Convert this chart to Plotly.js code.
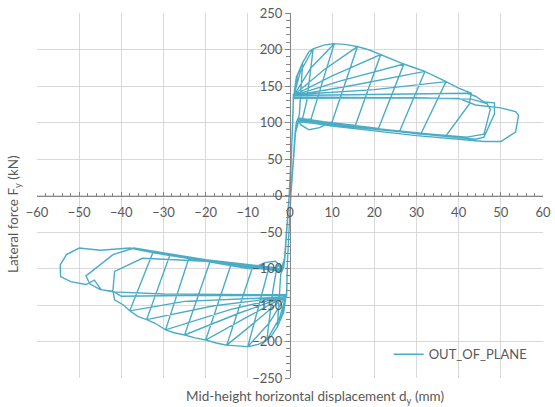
<!DOCTYPE html>
<html>
<head>
<meta charset="utf-8">
<script src="https://cdn.plot.ly/plotly-3.0.1.min.js"></script>
<style>html,body{margin:0;padding:0;background:#fff;}#chart{width:555px;height:407px;}</style>
</head>
<body>
<div id="chart"></div>
<script>
// Hysteresis path, one loop (positive then negative half-cycle) per pair of arrays
const loop1X = [0, 0.3, 0.8, 1.5, 3, 2.2, 1.5, 1.2, 0.2, -0.6, -0.8, -1.5, -3, -2.2, -1.5, -1.2, -0.2, 0.6];
const loop1Y = [0, 60, 132, 162, 182, 110, 100, 85, 0, -90, -132, -160, -180, -108, -98, -85, 0, 90];
const loop2X = [0.8, 1.8, 3, 4.5, 5.5, 4, 3, 2, 1.3, 0.2, -0.6, -0.8, -1.8, -3, -4.5, -5.5, -4, -3, -2, -1.3, -0.2, 0.6];
const loop2Y = [134, 165, 182, 197, 201, 130, 106, 104, 86, 0, -90, -134, -162, -180, -193, -198, -128, -95, -100, -86, 0, 90];
const loop3X = [0.8, 2.5, 5.5, 8, 10.5, 5, 3, 2, 1.3, 0.2, -0.6, -0.8, -2.5, -5.5, -7.5, -10, -5, -3, -2, -1.3, -0.2, 0.6];
const loop3Y = [135, 170, 201, 206, 208, 105, 103, 106, 86, 0, -90, -135, -168, -198, -204, -207, -99, -103, -102, -86, 0, 90];
const loop4X = [0.8, 5, 10.5, 13, 16, 10, 7, 4.5, 2.5, 2, 1.3, 0.2, -0.6, -0.8, -5, -10, -12.5, -15, -9, -6, -3.5, -2.2, -2, -1.3, -0.2, 0.6];
const loop4Y = [136, 175, 208, 207, 204, 101, 93, 90, 97, 105, 86, 0, -90, -136, -175, -207, -206, -205, -100, -92, -90, -96, -104, -86, 0, 90];
const loop5X = [0.8, 8, 16, 19, 21.5, 15.5, 8, 2, 1.3, 0.2, -0.6, -0.8, -8, -15, -17.5, -20, -14, -6, -2, -1.3, -0.2, 0.6];
const loop5Y = [137, 172, 204, 199, 193, 96, 101, 106, 86, 0, -90, -137, -172, -205, -202, -198, -95, -100, -104, -86, 0, 90];
const loop6X = [0.8, 10, 21.5, 24.5, 27, 21, 10, 2, 1.3, 0.2, -0.6, -0.8, -10, -20, -22.5, -25, -19, -8, -2, -1.3, -0.2, 0.6];
const loop6Y = [137, 164, 193, 186, 180, 92, 99, 105, 86, 0, -90, -137, -166, -198, -195, -191, -91, -99, -104, -86, 0, 90];
const loop7X = [0.8, 12, 27, 30, 32, 26, 12, 2, 1.3, 0.2, -0.6, -0.8, -12, -25, -27.5, -29.5, -24, -10, -2, -1.3, -0.2, 0.6];
const loop7Y = [137, 157, 180, 174, 170, 88, 97, 104, 86, 0, -90, -138, -161, -191, -188, -184, -86, -98, -103, -86, 0, 90];
const loop8X = [0.8, 15, 32, 35, 37, 31, 15, 2, 1.3, 0.2, -0.6, -0.8, -14, -29.5, -32, -34, -28.5, -12, -2, -1.3, -0.2, 0.6];
const loop8Y = [137, 151, 170, 162, 156, 84, 96, 103, 86, 0, -90, -138, -156, -184, -175, -170, -82, -96, -103, -86, 0, 90];
const loop9X = [0.8, 20, 37, 40, 42, 43, 42.5, 37, 20, 2, 1.3, 0.2, -0.6, -0.8, -18, -34, -36, -38, -32.5, -15, -2, -1.3, -0.2, 0.6];
const loop9Y = [138, 145, 156, 147, 142, 140, 125, 82, 92, 103, 86, 0, -90, -139, -151, -170, -166, -158, -78, -93, -102, -86, 0, 90];
const loop10X = [0.8, 25, 42, 44, 46, 48.5, 48.5, 46, 44, 30, 10, 2, 1.3, 0.2, -0.6, -0.8, -25, -38, -39.5, -41.6, -42, -41.6, -35, -20, -2, -1.3, -0.2, 0.6];
const loop10Y = [137, 139, 140, 136, 128, 127, 112, 80, 77, 85, 97, 102, 86, 0, -90, -139, -145, -158, -150, -143, -130, -104, -86, -90, -101, -86, 0, 90];
const loop11X = [0.8, 25, 40, 44, 50, 53.5, 54.2, 53.5, 50, 46, 30, 10, 2, 1.3, 0.2, -0.6, -0.8, -25, -40, -42, -45, -47.5, -48.4, -47, -42, -37, -20, -2, -1.3, -0.2, 0.6];
const loop11Y = [135, 134, 133, 124, 120, 115, 110, 87, 74, 74, 82, 95, 102, 86, 0, -90, -137, -137, -138, -131, -129, -121, -110, -104, -81, -72, -88, -100, -86, 0, 90];
const loop12X = [0.8, 30, 43, 46.7, 47.5, 46, 42, 25, 2, 1.3, 0.2, -0.6, -0.8, -30, -42, -44.8, -46.4, -48.4, -52, -54.4, -54.5, -53, -50, -45, -38, -32, -22, -10, -2, -1.3, -0.2, 0];
const loop12Y = [133, 134, 132, 126, 118, 84, 80, 88, 101, 86, 0, -90, -136, -135, -132, -129, -116, -122, -118, -111, -95, -81, -72, -75, -72, -79, -88, -100, -101, -86, 0, 0];

const seriesName = 'OUT_OF_PLANE';
const xTitle = 'Mid-height horizontal displacement d<sub>y</sub> (mm)';
const yTitle = 'Lateral force F<sub>y</sub> (kN)';

const allX = [].concat(loop1X, loop2X, loop3X, loop4X, loop5X, loop6X, loop7X, loop8X, loop9X, loop10X, loop11X, loop12X);
const allY = [].concat(loop1Y, loop2Y, loop3Y, loop4Y, loop5Y, loop6Y, loop7Y, loop8Y, loop9Y, loop10Y, loop11Y, loop12Y);

const txt = '#595959';
const tickFont = {family: 'Lato, "Open Sans", sans-serif', size: 13, color: txt};
const titleFont = {family: 'Lato, "Open Sans", sans-serif', size: 13.5, color: txt};

const trace = {
  x: allX, y: allY, type: 'scatter', mode: 'lines', name: seriesName,
  line: {color: '#4bacc6', width: 1.4}
};

const layout = {
  width: 555, height: 407,
  margin: {l: 37, r: 12, t: 13, b: 29},
  paper_bgcolor: '#ffffff', plot_bgcolor: '#ffffff',
  font: tickFont,
  showlegend: true,
  legend: {x: 0.695, y: 0.065, xanchor: 'left', yanchor: 'middle', bgcolor: 'rgba(0,0,0,0)', font: tickFont, itemwidth: 30},
  xaxis: {
    range: [-60, 60], dtick: 10, tick0: 0,
    showgrid: true, gridcolor: '#d9d9d9', gridwidth: 1, zeroline: false,
    showline: true, linecolor: '#868686', linewidth: 1,
    anchor: 'free', position: 0.5,
    ticks: 'inside', ticklen: 4, tickcolor: '#868686',
    minor: {dtick: 2, ticks: 'inside', ticklen: 3, tickcolor: '#868686', showgrid: false},
    tickfont: tickFont, ticklabelstandoff: 5
  },
  yaxis: {
    range: [-250, 250], dtick: 50, tick0: 0,
    showgrid: true, gridcolor: '#d9d9d9', gridwidth: 1, zeroline: false,
    showline: true, linecolor: '#868686', linewidth: 1,
    anchor: 'free', position: 0.5,
    ticks: 'outside', ticklen: 5, tickcolor: '#868686',
    minor: {dtick: 10, ticks: 'outside', ticklen: 4, tickcolor: '#868686', showgrid: false},
    tickfont: tickFont
  },
  annotations: [
    {text: xTitle, xref: 'paper', yref: 'paper', x: 0.549, y: -0.052, xanchor: 'center', yanchor: 'middle', showarrow: false, font: titleFont},
    {text: yTitle, xref: 'paper', yref: 'paper', x: -0.045, y: 0.45, xanchor: 'center', yanchor: 'middle', textangle: -90, showarrow: false, font: titleFont}
  ]
};

Plotly.newPlot('chart', [trace], layout, {displayModeBar: false, staticPlot: true});
</script>
</body>
</html>
